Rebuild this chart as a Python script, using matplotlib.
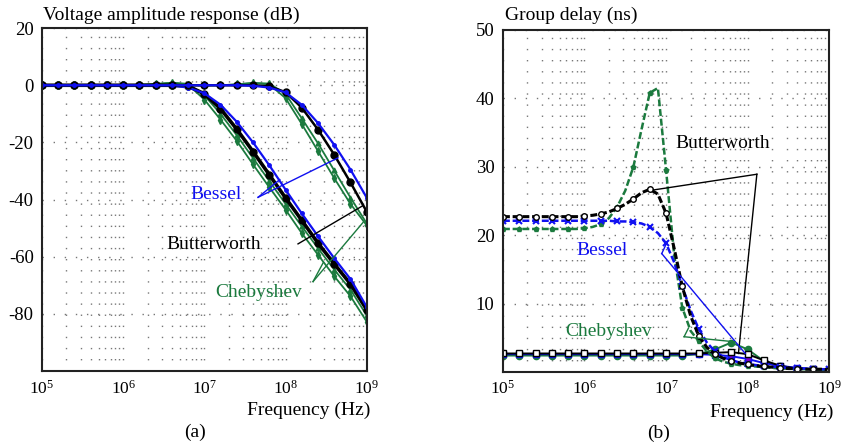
import matplotlib
matplotlib.use("Agg")
import matplotlib.pyplot as plt
from matplotlib.ticker import LogLocator, NullFormatter, FixedLocator

plt.rcParams['font.family'] = ['Liberation Serif', 'DejaVu Serif']
plt.rcParams['mathtext.fontset'] = 'custom'
plt.rcParams['mathtext.rm'] = 'Liberation Serif'
plt.rcParams['axes.unicode_minus'] = False
plt.rcParams['lines.scale_dashes'] = False

# frequency points, 0.2 decade apart (markers)
freq = [1.00e5, 1.58e5, 2.51e5, 3.98e5, 6.31e5, 1.00e6, 1.58e6, 2.51e6, 3.98e6, 6.31e6,
        1.00e7, 1.58e7, 2.51e7, 3.98e7, 6.31e7, 1.00e8, 1.58e8, 2.51e8, 3.98e8, 6.31e8, 1.00e9]

# finer grid (0.1 decade) for the group delay curves of the low cutoff filters
freq_fine = [1.00e5, 1.26e5, 1.58e5, 2.00e5, 2.51e5, 3.16e5, 3.98e5, 5.01e5, 6.31e5, 7.94e5,
             1.00e6, 1.26e6, 1.58e6, 2.00e6, 2.51e6, 3.16e6, 3.98e6, 5.01e6, 6.31e6, 7.94e6,
             1.00e7, 1.26e7, 1.58e7, 2.00e7, 2.51e7, 3.16e7, 3.98e7, 5.01e7, 6.31e7, 7.94e7,
             1.00e8, 1.26e8, 1.58e8, 2.00e8, 2.51e8, 3.16e8, 3.98e8, 5.01e8, 6.31e8, 7.94e8, 1.00e9]

# (a) amplitude response, dB  -- low cutoff (~10 MHz)
bessel_lo = [0, 0, 0, 0, 0, 0, 0, 0, -0.1, -0.8, -2.8, -6.8, -12.8, -20.0, -28.0,
             -36.5, -44.8, -52.8, -60.5, -67.8, -77.5]
butter_lo = [0, 0, 0, 0, 0, 0, 0, 0, 0, -0.3, -3.0, -8.2, -15.4, -23.2, -31.3,
             -39.4, -47.2, -55.2, -62.5, -69.5, -78.5]
cheby_lo_a = [0, 0, 0, 0, 0, 0, 0.2, 0.5, 0.9, 0.5, -3.5, -10.0, -17.5, -25.5, -33.5,
              -41.5, -49.3, -57.0, -64.5, -71.5, -80.5]
cheby_lo_b = [0, 0, 0, 0, 0, 0, 0, 0.3, 0.8, 0.2, -5.0, -12.0, -19.5, -27.7, -35.7,
              -43.5, -51.7, -59.3, -66.8, -73.8, -82.7]
# high cutoff (~100 MHz)
bessel_hi = [0, 0, 0, 0, 0, 0, 0, 0, 0, 0, 0, 0, 0, -0.2, -0.8,
             -2.5, -6.8, -13.2, -20.8, -29.5, -39.3]
butter_hi = [0, 0, 0, 0, 0, 0, 0, 0, 0, 0, 0, 0, 0, 0, -0.4,
             -2.4, -7.8, -15.5, -24.3, -34.0, -44.2]
cheby_hi_a = [0, 0, 0, 0, 0, 0, 0, 0, 0, 0, 0, 0, 0.3, 0.8, 0.6,
              -3.0, -11.5, -20.3, -29.8, -39.3, -48.3]
cheby_hi_b = [0, 0, 0, 0, 0, 0, 0, 0, 0, 0, 0, 0, 0.3, 0.8, 0.3,
              -4.5, -13.5, -23.0, -32.5, -41.5, -49.0]

# (b) group delay, ns -- low cutoff, on freq_fine
butter_gd_lo = [22.7, 22.7, 22.7, 22.7, 22.7, 22.7, 22.7, 22.7, 22.7, 22.7,
                22.8, 22.9, 23.1, 23.4, 23.9, 24.5, 25.3, 26.2, 26.7, 26.0,
                23.2, 18.0, 12.5, 8.2, 5.3, 3.6, 2.6, 2.0, 1.6, 1.3,
                1.1, 0.9, 0.8, 0.7, 0.6, 0.5, 0.5, 0.4, 0.4, 0.4, 0.3]
cheby_gd_lo = [20.9, 20.9, 20.9, 20.9, 20.9, 20.9, 20.9, 20.9, 20.9, 20.9,
               21.0, 21.2, 21.6, 22.5, 24.1, 26.5, 30.0, 35.5, 40.8, 41.5,
               29.5, 17.0, 9.4, 6.0, 4.5, 3.0, 2.0, 1.5, 1.2, 1.0,
               0.9, 0.8, 0.7, 0.6, 0.5, 0.5, 0.4, 0.4, 0.4, 0.3, 0.3]
bessel_gd_lo = [22.1, 22.1, 22.1, 22.1, 22.1, 22.1, 22.1, 22.1, 22.1, 22.1,
                22.1, 22.1, 22.1, 22.1, 22.0, 22.0, 21.9, 21.7, 21.2, 20.3,
                18.8, 16.0, 12.5, 9.0, 6.3, 4.3, 3.0, 2.2, 1.7, 1.4,
                1.2, 1.0, 0.9, 0.8, 0.7, 0.6, 0.55, 0.5, 0.45, 0.4, 0.4]
# high cutoff, on freq
butter_gd_hi = [2.7, 2.7, 2.7, 2.7, 2.7, 2.7, 2.7, 2.7, 2.7, 2.7, 2.7, 2.7, 2.7, 2.8, 2.9,
                2.6, 1.7, 0.9, 0.5, 0.4, 0.3]
bessel_gd_hi = [2.6, 2.6, 2.6, 2.6, 2.6, 2.6, 2.6, 2.6, 2.6, 2.6, 2.6, 2.6, 2.6, 2.5, 2.3,
                1.9, 1.3, 0.9, 0.6, 0.45, 0.35]
cheby_gd_hi = [2.4, 2.4, 2.4, 2.4, 2.4, 2.4, 2.4, 2.4, 2.4, 2.4, 2.4, 2.4, 2.6, 3.3, 4.3,
               3.3, 1.6, 0.8, 0.5, 0.4, 0.3]

BLUE = '#1010f0'
GREEN = '#1b7a3e'
BLACK = '#000000'
GRID = '#777777'
FS = 14

fig = plt.figure(figsize=(8.41, 4.46), dpi=100)
ax1 = fig.add_axes([0.050, 0.168, 0.386, 0.769])
ax2 = fig.add_axes([0.598, 0.166, 0.388, 0.767])


def style_axes(ax, yticks):
    ax.set_xscale('log')
    ax.set_xlim(1e5, 1e9)
    ax.xaxis.set_major_locator(LogLocator(base=10, numticks=10))
    ax.xaxis.set_minor_locator(LogLocator(base=10, subs=range(2, 10), numticks=20))
    ax.xaxis.set_minor_formatter(NullFormatter())
    ax.yaxis.set_major_locator(FixedLocator(yticks))
    ax.tick_params(which='both', length=0, labelsize=13.5, pad=6)
    ax.tick_params(axis='x', labelsize=12.5)
    ax.grid(True, which='both', axis='x', color=GRID, lw=1.0, linestyle=(0, (1, 7)))
    ax.grid(True, which='major', axis='y', color=GRID, lw=1.0, linestyle=(0, (1, 7)))
    for s in ax.spines.values():
        s.set_linewidth(1.5)
        s.set_color('#222222')


# ---------- (a) ----------
for b, bw, ca, cb, lw_bw in [(bessel_lo, butter_lo, cheby_lo_a, cheby_lo_b, 2.6),
                             (bessel_hi, butter_hi, cheby_hi_a, cheby_hi_b, 1.8)]:
    ax1.plot(freq, cb, color=GREEN, lw=1.3, marker='d', ms=4)
    ax1.plot(freq, ca, color=GREEN, lw=1.3, marker='^', ms=3.5)
    ax1.plot(freq, bw, color=BLACK, lw=lw_bw, marker='o', ms=5)
    ax1.plot(freq, b, color=BLUE, lw=1.6, marker='.', ms=5)
ax1.set_ylim(-100, 20)
style_axes(ax1, [20, 0, -20, -40, -60, -80])

ax1.text(10**7.142, -38.2, 'Bessel', color=BLUE, fontsize=FS, ha='center', va='center')
ax1.plot([10**7.662, 10**8.647], [-39.2, -25.4], color=BLUE, lw=1.0)
ax1.plot([10**7.662, 10**7.929], [-39.2, -33.0], color=BLUE, lw=1.0)
ax1.text(10**7.111, -55.8, 'Butterworth', color=BLACK, fontsize=FS, ha='center', va='center')
ax1.plot([10**8.154, 10**8.955], [-55.5, -42.1], color=BLACK, lw=1.0)
ax1.text(10**7.671, -72.6, 'Chebyshev', color=GREEN, fontsize=FS, ha='center', va='center')
ax1.plot([10**8.339, 10**8.955], [-68.7, -48.0], color=GREEN, lw=1.0)
ax1.plot([10**8.339, 10**8.462], [-68.7, -62.2], color=GREEN, lw=1.0)

# ---------- (b) ----------
ax2.plot(freq, cheby_gd_hi, color=GREEN, lw=1.4, marker='o', ms=4.5)
ax2.plot(freq, bessel_gd_hi, color=BLUE, lw=1.4, marker='s', ms=4, mfc='#7a00c8', mec=BLUE)
ax2.plot(freq, butter_gd_hi, color=BLACK, lw=1.4, marker='s', ms=4.5, mfc='white', mec=BLACK)
ax2.plot(freq_fine, cheby_gd_lo, color=GREEN, lw=1.8, ls=(0, (5, 2)), marker='p', ms=3.5, markevery=2)
ax2.plot(freq_fine, bessel_gd_lo, color=BLUE, lw=1.8, ls=(0, (5, 2)), marker='x', ms=4, mew=1.5, markevery=2)
ax2.plot(freq_fine, butter_gd_lo, color=BLACK, lw=2.2, ls=(0, (5, 2)), marker='o', ms=4, mfc='white', markevery=2)
ax2.set_ylim(0, 50)
style_axes(ax2, [10, 20, 30, 40, 50])

ax2.text(10**7.693, 33.4, 'Butterworth', color=BLACK, fontsize=FS, ha='center', va='center')
ax2.plot([10**8.113, 10**6.844], [28.9, 26.6], color=BLACK, lw=1.0)
ax2.plot([10**8.113, 10**7.887], [28.9, 2.7], color=BLACK, lw=1.0)
ax2.text(10**6.209, 17.8, 'Bessel', color=BLUE, fontsize=FS, ha='center', va='center')
ax2.plot([10**6.947, 10**7.009], [17.3, 18.9], color=BLUE, lw=1.0)
ax2.plot([10**6.947, 10**7.970], [17.3, 2.7], color=BLUE, lw=1.0)
ax2.text(10**6.30, 5.9, 'Chebyshev', color=GREEN, fontsize=FS, ha='center', va='center')
ax2.plot([10**7.221, 10**7.274], [5.15, 6.4], color=GREEN, lw=1.0)
ax2.plot([10**7.221, 10**7.847], [5.15, 4.4], color=GREEN, lw=1.0)

# titles, axis labels, panel tags
fig.text(43 / 841, 1 - 15 / 446, 'Voltage amplitude response (dB)', fontsize=FS, ha='left', va='center')
fig.text(505 / 841, 1 - 15 / 446, 'Group delay (ns)', fontsize=FS, ha='left', va='center')
fig.text(370 / 841, 1 - 410 / 446, 'Frequency (Hz)', fontsize=FS, ha='right', va='center')
fig.text(833 / 841, 1 - 412 / 446, 'Frequency (Hz)', fontsize=FS, ha='right', va='center')
fig.text(195 / 841, 1 - 432 / 446, '(a)', fontsize=FS, ha='center', va='center')
fig.text(659 / 841, 1 - 433 / 446, '(b)', fontsize=FS, ha='center', va='center')

fig.savefig('out.png', dpi=100)
